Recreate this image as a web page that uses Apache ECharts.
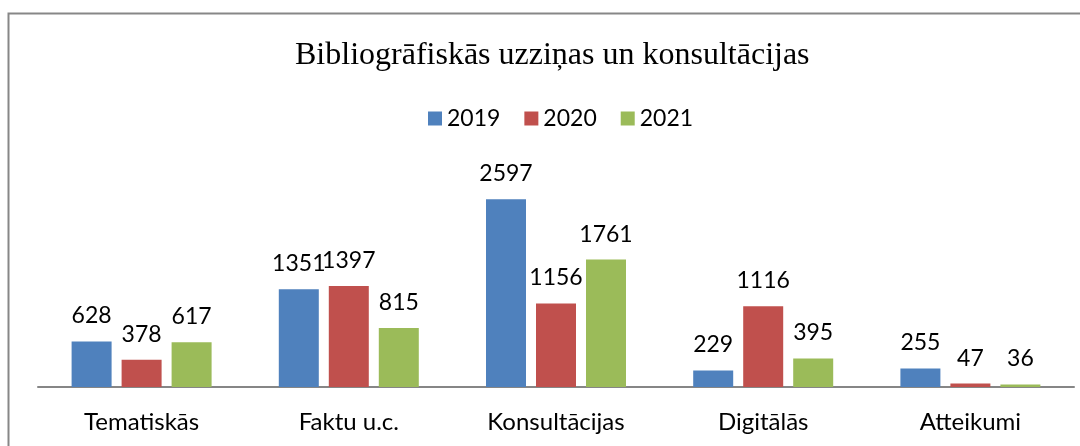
<!DOCTYPE html>
<html><head><meta charset="utf-8">
<script src="https://cdn.jsdelivr.net/npm/echarts@6/dist/echarts.min.js"></script>
<style>html,body{margin:0;padding:0;background:#fff}#c{width:1080px;height:446px}</style>
</head><body><div id="c"></div>
<script>
const categories = ['Tematiskās', 'Faktu u.c.', 'Konsultācijas', 'Digitālās', 'Atteikumi'];
const seriesNames = ['2019', '2020', '2021'];
const values2019 = [628, 1351, 2597, 229, 255];
const values2020 = [378, 1397, 1156, 1116, 47];
const values2021 = [617, 815, 1761, 395, 36];
const colors = ['#4F81BD', '#C0504D', '#9BBB59'];
const titleText = 'Bibliogrāfiskās uzziņas un konsultācijas';

const chart = echarts.init(document.getElementById('c'));
const sans = 'Lato';
const allValues = [values2019, values2020, values2021];
chart.setOption({
  animation: false,
  title: {
    text: titleText, left: 290, top: 35,
    textStyle: { fontFamily: 'Liberation Serif', fontWeight: 'normal', fontSize: 32, color: '#000' }
  },
  legend: {
    top: 102, left: 423, itemWidth: 14, itemHeight: 14, itemGap: 24,
    icon: 'rect',
    textStyle: { fontFamily: sans, fontSize: 23, color: '#000' },
    data: seriesNames
  },
  graphic: [{
    type: 'rect', shape: { x: 8.5, y: 13.5, width: 1200, height: 600 },
    style: { fill: 'none', stroke: '#878787', lineWidth: 2 }, silent: true
  }],
  grid: { left: 38, right: 6, top: 170, bottom: 59 },
  xAxis: {
    type: 'category', data: categories,
    axisLine: { lineStyle: { color: '#868686', width: 2 } },
    axisTick: { show: false },
    axisLabel: { fontFamily: sans, fontSize: 24, color: '#000', margin: 23 }
  },
  yAxis: { type: 'value', min: 0, max: 3000, show: false, splitLine: { show: false } },
  series: seriesNames.map((n, i) => ({
    name: n, type: 'bar', data: allValues[i],
    barWidth: 40, barGap: '25%',
    itemStyle: { color: colors[i] },
    label: { show: true, position: 'top', distance: 14, fontFamily: sans, fontSize: 23, color: '#000' }
  }))
});
</script></body></html>
